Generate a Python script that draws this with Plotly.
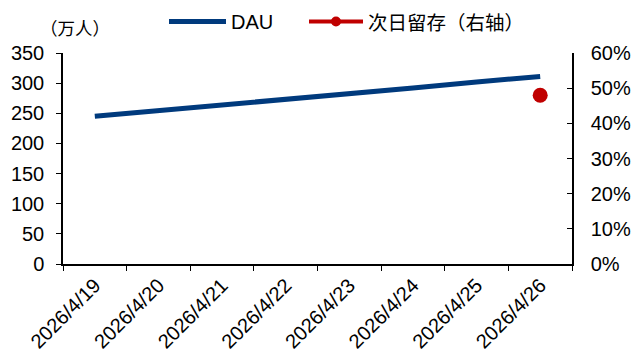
import plotly.graph_objects as go

# Daily data
dates = ["2026/4/19", "2026/4/20", "2026/4/21", "2026/4/22",
         "2026/4/23", "2026/4/24", "2026/4/25", "2026/4/26"]
dau = [245, 254, 264, 273, 283, 292, 302, 311]          # 万人
retention = [None, None, None, None, None, None, None, 0.48]  # 次日留存

FONT = "Liberation Sans, Arial, Noto Sans CJK SC, sans-serif"
CJK = "Noto Sans CJK SC"
BLUE = "#003A7D"
RED = "#C00000"

W, H = 633, 361
L, R, T, B = 63, 61, 53, 97
PW, PH = W - L - R, H - T - B


def px(xp):
    return (xp - L) / PW


def py(yp):
    return 1 + (T - yp) / PH


fig = go.Figure()
fig.add_trace(go.Scatter(
    x=dates, y=dau, name="DAU", mode="lines",
    line=dict(color=BLUE, width=5), showlegend=False,
))
fig.add_trace(go.Scatter(
    x=dates, y=retention, name="次日留存（右轴）", mode="lines+markers",
    line=dict(color=RED, width=4),
    marker=dict(color=RED, size=15),
    yaxis="y2", showlegend=False,
))

# legend drawn above the plot area
legend_y = 21.5
shapes = [
    dict(type="line", xref="paper", yref="paper",
         x0=px(169), x1=px(226), y0=py(legend_y), y1=py(legend_y),
         line=dict(color=BLUE, width=5)),
    dict(type="line", xref="paper", yref="paper",
         x0=px(309), x1=px(363), y0=py(legend_y), y1=py(legend_y),
         line=dict(color=RED, width=4)),
    dict(type="circle", xref="paper", yref="paper",
         x0=px(331), x1=px(341), y0=py(legend_y + 5), y1=py(legend_y - 5),
         fillcolor=RED, line=dict(color=RED, width=0)),
]

annotations = [
    dict(text="（万人）", x=px(75), y=py(27), xanchor="center",
         yanchor="middle", font=dict(size=17.5, family=CJK)),
    dict(text="DAU", x=px(229), y=py(legend_y), xanchor="left",
         yanchor="middle", font=dict(size=20)),
    dict(text="次日留存（右轴）", x=px(366), y=py(legend_y), xanchor="left",
         yanchor="middle", font=dict(size=19.5, family=CJK)),
]
for a in annotations:
    a.update(xref="paper", yref="paper", showarrow=False)

fig.update_layout(
    width=W, height=H,
    margin=dict(l=L, r=R, t=T, b=B, autoexpand=False),
    paper_bgcolor="white", plot_bgcolor="white",
    font=dict(family=FONT, size=20, color="#000000"),
    showlegend=False,
    xaxis=dict(
        type="category", range=[-0.5, 7.5], tickson="boundaries",
        tickangle=-45, ticks="outside", ticklen=5, tickcolor="black",
        showline=True, linecolor="black", linewidth=1.5,
        showgrid=False, zeroline=False, tickfont=dict(size=20),
    ),
    yaxis=dict(
        range=[0, 350], dtick=50, ticks="outside", ticklen=5,
        tickcolor="black", showline=True, linecolor="black", linewidth=1.5,
        showgrid=False, zeroline=False, tickfont=dict(size=20),
        ticklabelstandoff=8,
    ),
    yaxis2=dict(
        range=[0, 0.6], dtick=0.1, tickformat=".0%", overlaying="y",
        side="right", ticks="inside", ticklen=5, tickcolor="black",
        showline=True, linecolor="black", linewidth=1.5,
        showgrid=False, zeroline=False, tickfont=dict(size=20),
        ticklabelstandoff=13,
    ),
    shapes=shapes,
    annotations=annotations,
)

fig.write_html("out.html")
